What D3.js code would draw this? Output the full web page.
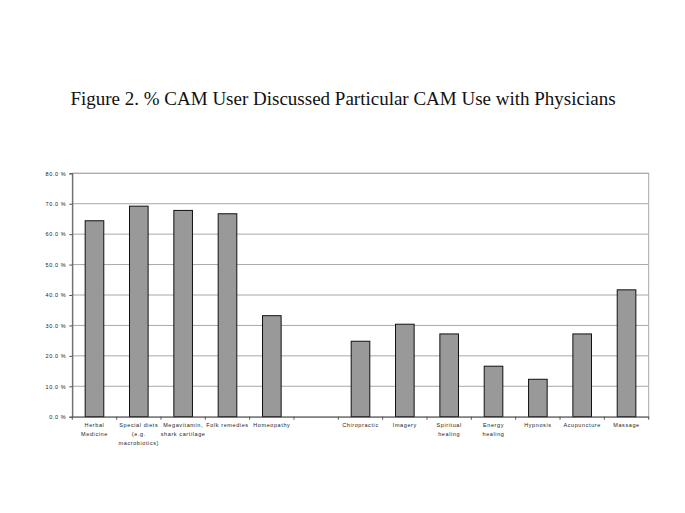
<!DOCTYPE html>
<html><head><meta charset="utf-8">
<script src="https://d3js.org/d3.v7.min.js"></script>
<style>body{margin:0;background:#fff}</style>
</head><body>
<script>
const categories = [["Herbal","Medicine"],["Special diets","(e.g.","macrobiotics)"],["Megavitamin,","shark cartilage"],["Folk remedies"],["Homeopathy"],[""],["Chiropractic"],["Imagery"],["Spiritual","healing"],["Energy","healing"],["Hypnosis"],["Acupuncture"],["Massage"]];
const values = [64.4, 69.2, 67.8, 66.7, 33.2, null, 24.8, 30.4, 27.2, 16.6, 12.3, 27.2, 41.7];
const yTicks = [0,10,20,30,40,50,60,70,80];
const title = "Figure 2. % CAM User Discussed Particular CAM Use with Physicians";

const W=685,H=513;
const svg=d3.select("body").append("svg").attr("width",W).attr("height",H);
const L=72.3,R=648.7,T=173.3,B=416.7;
const x=d3.scaleBand().domain(d3.range(categories.length)).range([L,R]).padding(0);
const y=d3.scaleLinear().domain([0,80]).range([B,T]);

svg.append("text").attr("x",343).attr("y",105).attr("text-anchor","middle")
  .attr("font-family","Liberation Serif, Times New Roman, serif").attr("font-size",19).attr("fill","#111").text(title);

// gridlines
svg.append("g").selectAll("line").data(yTicks.filter(d=>d>0)).join("line")
  .attr("x1",L).attr("x2",R).attr("y1",d=>y(d)).attr("y2",d=>y(d))
  .attr("stroke","#a8a8a8").attr("stroke-width",1);
// plot border
svg.append("rect").attr("x",L).attr("y",T).attr("width",R-L).attr("height",B-T)
  .attr("fill","none").attr("stroke","#a8a8a8").attr("stroke-width",1);

// bars
const bw=x.bandwidth()*0.42;
svg.append("g").selectAll("rect").data(values.map((v,i)=>({v,i})).filter(d=>d.v!==null)).join("rect")
  .attr("x",d=>x(d.i)+x.bandwidth()/2-bw/2).attr("width",bw)
  .attr("y",d=>y(d.v)).attr("height",d=>B-y(d.v))
  .attr("fill","#999999").attr("stroke","#111").attr("stroke-width",1);

// y axis
const ya=svg.append("g").attr("transform",`translate(${L},0)`)
  .call(d3.axisLeft(y).tickValues(yTicks).tickSize(3).tickFormat(d=>d.toFixed(1)+" %"));
ya.select(".domain").attr("stroke","#555");
ya.selectAll(".tick line").attr("stroke","#555");
ya.selectAll("text").attr("font-family","Liberation Sans, Arial, sans-serif").attr("font-size",5.5)
  .attr("letter-spacing",0.6).attr("fill","#222").attr("x",-6);

// x axis
const xa=svg.append("g").attr("transform",`translate(0,${B})`)
  .call(d3.axisBottom(x).tickSize(0).tickFormat(""));
xa.select(".domain").attr("stroke","#555");
const edges=d3.range(categories.length+1).map(i=>L+i*x.step());
xa.selectAll("line.edge").data(edges).join("line").attr("class","edge")
  .attr("x1",d=>d).attr("x2",d=>d).attr("y1",0).attr("y2",3).attr("stroke","#555");
const lab=svg.append("g");
categories.forEach((lines,i)=>{
  lines.forEach((s,j)=>{
    lab.append("text").attr("x",x(i)+x.bandwidth()/2).attr("y",427+j*8.8)
      .attr("text-anchor","middle").attr("font-family","Liberation Sans, Arial, sans-serif")
      .attr("font-size",5.5).attr("letter-spacing",0.6).attr("fill","#222").text(s);
  });
});
</script>
</body></html>
